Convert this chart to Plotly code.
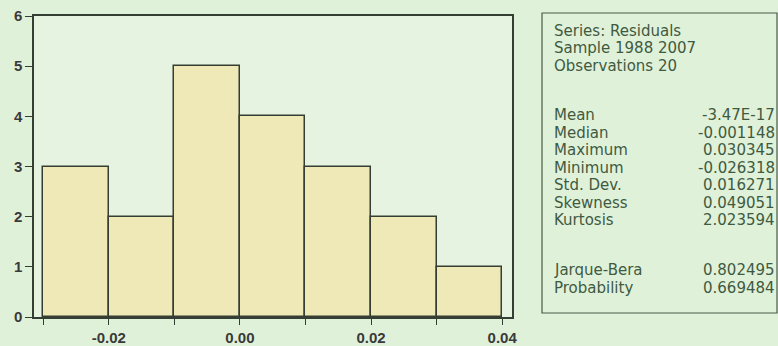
import plotly.graph_objects as go

# ---- data ----
bin_edges = [-0.03, -0.02, -0.01, 0.00, 0.01, 0.02, 0.03, 0.04]
counts = [3, 2, 5, 4, 3, 2, 1]
x_tick_labels = ["", "-0.02", "", "0.00", "", "0.02", "", "0.04"]
y_ticks = [0, 1, 2, 3, 4, 5, 6]

header_lines = ["Series: Residuals", "Sample 1988 2007", "Observations 20"]
stat_names = ["Mean", "Median", "Maximum", "Minimum", "Std. Dev.", "Skewness", "Kurtosis"]
stat_values = ["-3.47E-17", "-0.001148", "0.030345", "-0.026318", "0.016271", "0.049051", "2.023594"]
test_names = ["Jarque-Bera", "Probability"]
test_values = ["0.802495", "0.669484"]

# ---- geometry helpers (pixel -> paper) ----
W, H = 778, 346
L, R, T, B = 34, 512, 16, 317
def px(x):
    return (x - L) / (R - L)
def py(y):
    return (B - y) / (B - T)

centers = [(bin_edges[i] + bin_edges[i + 1]) / 2 for i in range(len(counts))]
width = bin_edges[1] - bin_edges[0]

line_col = "#343e32"
text_col = "#3f5a3f"
x_tick_font = dict(size=15, color="#3a3a3a", family="Liberation Sans, Arial, sans-serif", weight="bold")
y_tick_font = dict(size=15, color="#3a3a3a", family="Liberation Sans, Arial, sans-serif", weight="bold")

fig = go.Figure()
fig.add_trace(go.Bar(
    x=centers, y=counts, width=[width] * len(counts),
    marker=dict(color="rgba(238,232,178,0.9)", line=dict(color=line_col, width=1.5)),
    hoverinfo="skip",
))

fig.update_layout(
    width=W, height=H,
    margin=dict(l=L, r=W - R, t=T, b=H - B, autoexpand=False),
    paper_bgcolor="#e0f1da",
    plot_bgcolor="#e6f3e0",
    showlegend=False,
    bargap=0,
    font=dict(family="Liberation Sans, Arial, sans-serif", color="#3a3a3a"),
)
fig.update_xaxes(
    range=[-0.0314, 0.0415],
    tickvals=bin_edges, ticktext=x_tick_labels,
    ticks="outside", ticklen=6, tickwidth=1.3, tickcolor=line_col,
    showline=True, linecolor=line_col, linewidth=1.5, mirror=True,
    showgrid=False, zeroline=False, automargin=False,
    tickfont=x_tick_font,
)
fig.update_yaxes(
    range=[0, 6],
    tickvals=y_ticks,
    ticks="outside", ticklen=7, tickwidth=1.3, tickcolor=line_col,
    showline=True, linecolor=line_col, linewidth=1.5, mirror=True,
    showgrid=False, zeroline=False, automargin=False,
    tickfont=y_tick_font,
)

# stats box
fig.add_shape(type="rect", xref="paper", yref="paper",
              x0=px(542), x1=px(777), y0=py(313), y1=py(13),
              line=dict(color="#4a5a48", width=1.2), fillcolor="rgba(0,0,0,0)")

font = dict(size=15, color=text_col, family="DejaVu Sans, sans-serif")
def txt(x, y, s, anchor):
    fig.add_annotation(xref="paper", yref="paper", x=px(x), y=py(y), text=s,
                       showarrow=False, xanchor=anchor, yanchor="middle", font=font,
                       borderpad=0)

header_y = [31, 48.5, 66]
for yy, s in zip(header_y, header_lines):
    txt(553, yy, s, "left")

stat_y = [115, 132.5, 150, 167.5, 185, 202.5, 220]
for yy, n, v in zip(stat_y, stat_names, stat_values):
    txt(553, yy, n, "left")
    txt(776, yy, v, "right")

test_y = [270, 287.5]
for yy, n, v in zip(test_y, test_names, test_values):
    txt(553, yy, n, "left")
    txt(776, yy, v, "right")

fig.write_html("out.html",
               config={"displayModeBar": False},
               post_script="document.body.style.margin='0';document.body.style.padding='0';document.body.style.overflow='hidden';")
